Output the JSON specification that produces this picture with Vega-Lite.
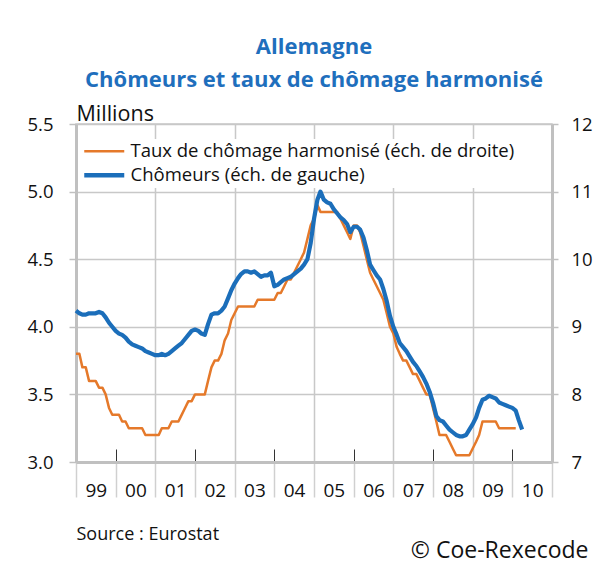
{
  "$schema": "https://vega.github.io/schema/vega-lite/v6.json",
  "width": 476,
  "height": 338,
  "autosize": "none",
  "padding": {"left": 76, "top": 124, "right": 58, "bottom": 110},
  "background": "white",
  "config": {
    "font": "Open Sans",
    "view": {"stroke": "#c8c8c8", "strokeWidth": 1.5},
    "axis": {"labelColor": "#111", "titleColor": "#111", "labelFont": "Open Sans", "titleFont": "Open Sans"}
  },
  "title": {
    "text": ["Allemagne", "Chômeurs et taux de chômage harmonisé"],
    "color": "#1f6fbd",
    "font": "Open Sans",
    "fontSize": 22,
    "fontWeight": "bold",
    "lineHeight": 33,
    "anchor": "middle",
    "frame": "group",
    "baseline": "alphabetic",
    "offset": -6
  },
  "datasets": {
    "chom": [
      {"d":"1999-01-01","v":4.12},{"d":"1999-02-01","v":4.10},{"d":"1999-03-01","v":4.09},{"d":"1999-04-01","v":4.09},{"d":"1999-05-01","v":4.10},{"d":"1999-06-01","v":4.10},{"d":"1999-07-01","v":4.10},{"d":"1999-08-01","v":4.11},{"d":"1999-09-01","v":4.10},{"d":"1999-10-01","v":4.07},{"d":"1999-11-01","v":4.03},{"d":"1999-12-01","v":4.00},
      {"d":"2000-01-01","v":3.97},{"d":"2000-02-01","v":3.95},{"d":"2000-03-01","v":3.94},{"d":"2000-04-01","v":3.92},{"d":"2000-05-01","v":3.89},{"d":"2000-06-01","v":3.87},{"d":"2000-07-01","v":3.86},{"d":"2000-08-01","v":3.85},{"d":"2000-09-01","v":3.84},{"d":"2000-10-01","v":3.82},{"d":"2000-11-01","v":3.81},{"d":"2000-12-01","v":3.80},
      {"d":"2001-01-01","v":3.79},{"d":"2001-02-01","v":3.79},{"d":"2001-03-01","v":3.80},{"d":"2001-04-01","v":3.79},{"d":"2001-05-01","v":3.80},{"d":"2001-06-01","v":3.82},{"d":"2001-07-01","v":3.84},{"d":"2001-08-01","v":3.86},{"d":"2001-09-01","v":3.88},{"d":"2001-10-01","v":3.91},{"d":"2001-11-01","v":3.94},{"d":"2001-12-01","v":3.97},
      {"d":"2002-01-01","v":3.98},{"d":"2002-02-01","v":3.97},{"d":"2002-03-01","v":3.95},{"d":"2002-04-01","v":3.94},{"d":"2002-05-01","v":4.02},{"d":"2002-06-01","v":4.09},{"d":"2002-07-01","v":4.10},{"d":"2002-08-01","v":4.10},{"d":"2002-09-01","v":4.12},{"d":"2002-10-01","v":4.15},{"d":"2002-11-01","v":4.21},{"d":"2002-12-01","v":4.27},
      {"d":"2003-01-01","v":4.32},{"d":"2003-02-01","v":4.36},{"d":"2003-03-01","v":4.39},{"d":"2003-04-01","v":4.41},{"d":"2003-05-01","v":4.41},{"d":"2003-06-01","v":4.40},{"d":"2003-07-01","v":4.41},{"d":"2003-08-01","v":4.39},{"d":"2003-09-01","v":4.37},{"d":"2003-10-01","v":4.38},{"d":"2003-11-01","v":4.38},{"d":"2003-12-01","v":4.40},
      {"d":"2004-01-01","v":4.30},{"d":"2004-02-01","v":4.31},{"d":"2004-03-01","v":4.33},{"d":"2004-04-01","v":4.35},{"d":"2004-05-01","v":4.36},{"d":"2004-06-01","v":4.37},{"d":"2004-07-01","v":4.39},{"d":"2004-08-01","v":4.41},{"d":"2004-09-01","v":4.43},{"d":"2004-10-01","v":4.46},{"d":"2004-11-01","v":4.50},{"d":"2004-12-01","v":4.62},
      {"d":"2005-01-01","v":4.80},{"d":"2005-02-01","v":4.94},{"d":"2005-03-01","v":5.00},{"d":"2005-04-01","v":4.94},{"d":"2005-05-01","v":4.92},{"d":"2005-06-01","v":4.91},{"d":"2005-07-01","v":4.87},{"d":"2005-08-01","v":4.84},{"d":"2005-09-01","v":4.81},{"d":"2005-10-01","v":4.79},{"d":"2005-11-01","v":4.76},{"d":"2005-12-01","v":4.70},
      {"d":"2006-01-01","v":4.74},{"d":"2006-02-01","v":4.74},{"d":"2006-03-01","v":4.72},{"d":"2006-04-01","v":4.66},{"d":"2006-05-01","v":4.57},{"d":"2006-06-01","v":4.46},{"d":"2006-07-01","v":4.42},{"d":"2006-08-01","v":4.38},{"d":"2006-09-01","v":4.35},{"d":"2006-10-01","v":4.28},{"d":"2006-11-01","v":4.19},{"d":"2006-12-01","v":4.08},
      {"d":"2007-01-01","v":4.00},{"d":"2007-02-01","v":3.94},{"d":"2007-03-01","v":3.88},{"d":"2007-04-01","v":3.85},{"d":"2007-05-01","v":3.82},{"d":"2007-06-01","v":3.78},{"d":"2007-07-01","v":3.74},{"d":"2007-08-01","v":3.71},{"d":"2007-09-01","v":3.67},{"d":"2007-10-01","v":3.63},{"d":"2007-11-01","v":3.58},{"d":"2007-12-01","v":3.52},
      {"d":"2008-01-01","v":3.44},{"d":"2008-02-01","v":3.34},{"d":"2008-03-01","v":3.31},{"d":"2008-04-01","v":3.30},{"d":"2008-05-01","v":3.27},{"d":"2008-06-01","v":3.24},{"d":"2008-07-01","v":3.22},{"d":"2008-08-01","v":3.20},{"d":"2008-09-01","v":3.19},{"d":"2008-10-01","v":3.19},{"d":"2008-11-01","v":3.20},{"d":"2008-12-01","v":3.24},
      {"d":"2009-01-01","v":3.28},{"d":"2009-02-01","v":3.33},{"d":"2009-03-01","v":3.40},{"d":"2009-04-01","v":3.46},{"d":"2009-05-01","v":3.47},{"d":"2009-06-01","v":3.49},{"d":"2009-07-01","v":3.48},{"d":"2009-08-01","v":3.47},{"d":"2009-09-01","v":3.44},{"d":"2009-10-01","v":3.43},{"d":"2009-11-01","v":3.42},{"d":"2009-12-01","v":3.41},
      {"d":"2010-01-01","v":3.40},{"d":"2010-02-01","v":3.38},{"d":"2010-03-01","v":3.31},{"d":"2010-04-01","v":3.24}
    ],
    "taux": [
      {"d":"1999-01-01","v":8.6},{"d":"1999-02-01","v":8.6},{"d":"1999-03-01","v":8.4},{"d":"1999-04-01","v":8.4},{"d":"1999-05-01","v":8.2},{"d":"1999-06-01","v":8.2},{"d":"1999-07-01","v":8.2},{"d":"1999-08-01","v":8.1},{"d":"1999-09-01","v":8.1},{"d":"1999-10-01","v":8.0},{"d":"1999-11-01","v":7.8},{"d":"1999-12-01","v":7.7},
      {"d":"2000-01-01","v":7.7},{"d":"2000-02-01","v":7.7},{"d":"2000-03-01","v":7.6},{"d":"2000-04-01","v":7.6},{"d":"2000-05-01","v":7.5},{"d":"2000-06-01","v":7.5},{"d":"2000-07-01","v":7.5},{"d":"2000-08-01","v":7.5},{"d":"2000-09-01","v":7.5},{"d":"2000-10-01","v":7.4},{"d":"2000-11-01","v":7.4},{"d":"2000-12-01","v":7.4},
      {"d":"2001-01-01","v":7.4},{"d":"2001-02-01","v":7.4},{"d":"2001-03-01","v":7.5},{"d":"2001-04-01","v":7.5},{"d":"2001-05-01","v":7.5},{"d":"2001-06-01","v":7.6},{"d":"2001-07-01","v":7.6},{"d":"2001-08-01","v":7.6},{"d":"2001-09-01","v":7.7},{"d":"2001-10-01","v":7.8},{"d":"2001-11-01","v":7.9},{"d":"2001-12-01","v":7.9},
      {"d":"2002-01-01","v":8.0},{"d":"2002-02-01","v":8.0},{"d":"2002-03-01","v":8.0},{"d":"2002-04-01","v":8.0},{"d":"2002-05-01","v":8.2},{"d":"2002-06-01","v":8.4},{"d":"2002-07-01","v":8.5},{"d":"2002-08-01","v":8.5},{"d":"2002-09-01","v":8.6},{"d":"2002-10-01","v":8.8},{"d":"2002-11-01","v":8.9},{"d":"2002-12-01","v":9.1},
      {"d":"2003-01-01","v":9.2},{"d":"2003-02-01","v":9.3},{"d":"2003-03-01","v":9.3},{"d":"2003-04-01","v":9.3},{"d":"2003-05-01","v":9.3},{"d":"2003-06-01","v":9.3},{"d":"2003-07-01","v":9.3},{"d":"2003-08-01","v":9.4},{"d":"2003-09-01","v":9.4},{"d":"2003-10-01","v":9.4},{"d":"2003-11-01","v":9.4},{"d":"2003-12-01","v":9.4},
      {"d":"2004-01-01","v":9.4},{"d":"2004-02-01","v":9.5},{"d":"2004-03-01","v":9.5},{"d":"2004-04-01","v":9.6},{"d":"2004-05-01","v":9.7},{"d":"2004-06-01","v":9.7},{"d":"2004-07-01","v":9.8},{"d":"2004-08-01","v":9.9},{"d":"2004-09-01","v":10.0},{"d":"2004-10-01","v":10.1},{"d":"2004-11-01","v":10.3},{"d":"2004-12-01","v":10.5},
      {"d":"2005-01-01","v":10.6},{"d":"2005-02-01","v":10.8},{"d":"2005-03-01","v":10.7},{"d":"2005-04-01","v":10.7},{"d":"2005-05-01","v":10.7},{"d":"2005-06-01","v":10.7},{"d":"2005-07-01","v":10.7},{"d":"2005-08-01","v":10.7},{"d":"2005-09-01","v":10.6},{"d":"2005-10-01","v":10.5},{"d":"2005-11-01","v":10.4},{"d":"2005-12-01","v":10.3},
      {"d":"2006-01-01","v":10.5},{"d":"2006-02-01","v":10.5},{"d":"2006-03-01","v":10.4},{"d":"2006-04-01","v":10.2},{"d":"2006-05-01","v":10.0},{"d":"2006-06-01","v":9.8},{"d":"2006-07-01","v":9.7},{"d":"2006-08-01","v":9.6},{"d":"2006-09-01","v":9.5},{"d":"2006-10-01","v":9.4},{"d":"2006-11-01","v":9.2},{"d":"2006-12-01","v":9.0},
      {"d":"2007-01-01","v":8.9},{"d":"2007-02-01","v":8.7},{"d":"2007-03-01","v":8.6},{"d":"2007-04-01","v":8.5},{"d":"2007-05-01","v":8.5},{"d":"2007-06-01","v":8.4},{"d":"2007-07-01","v":8.3},{"d":"2007-08-01","v":8.3},{"d":"2007-09-01","v":8.2},{"d":"2007-10-01","v":8.1},{"d":"2007-11-01","v":8.0},{"d":"2007-12-01","v":8.0},
      {"d":"2008-01-01","v":7.8},{"d":"2008-02-01","v":7.6},{"d":"2008-03-01","v":7.4},{"d":"2008-04-01","v":7.4},{"d":"2008-05-01","v":7.4},{"d":"2008-06-01","v":7.3},{"d":"2008-07-01","v":7.2},{"d":"2008-08-01","v":7.1},{"d":"2008-09-01","v":7.1},{"d":"2008-10-01","v":7.1},{"d":"2008-11-01","v":7.1},{"d":"2008-12-01","v":7.1},
      {"d":"2009-01-01","v":7.2},{"d":"2009-02-01","v":7.3},{"d":"2009-03-01","v":7.4},{"d":"2009-04-01","v":7.6},{"d":"2009-05-01","v":7.6},{"d":"2009-06-01","v":7.6},{"d":"2009-07-01","v":7.6},{"d":"2009-08-01","v":7.6},{"d":"2009-09-01","v":7.5},{"d":"2009-10-01","v":7.5},{"d":"2009-11-01","v":7.5},{"d":"2009-12-01","v":7.5},
      {"d":"2010-01-01","v":7.5},{"d":"2010-02-01","v":7.5}
    ]
  },
  "resolve": {"scale": {"y": "independent"}, "axis": {"x": "independent", "y": "independent"}},
  "layer": [
    {
      "data": {"name": "taux"},
      "mark": {"type": "line", "strokeWidth": 2.5, "strokeJoin": "round"},
      "encoding": {
        "x": {
          "field": "d", "type": "temporal",
          "scale": {"domain": [{"year": 1999, "month": 1, "date": 1}, {"year": 2011, "month": 1, "date": 1}]},
          "axis": {
            "orient": "bottom",
            "values": [{"year":1999,"month":1,"date":1},{"year":2000,"month":1,"date":1},{"year":2001,"month":1,"date":1},{"year":2002,"month":1,"date":1},{"year":2003,"month":1,"date":1},{"year":2004,"month":1,"date":1},{"year":2005,"month":1,"date":1},{"year":2006,"month":1,"date":1},{"year":2007,"month":1,"date":1},{"year":2008,"month":1,"date":1},{"year":2009,"month":1,"date":1},{"year":2010,"month":1,"date":1}],
            "format": "%y",
            "labelOffset": 19.8,
            "labelAlign": "center",
            "labelBaseline": "middle",
            "labelFlush": false,
            "labelOverlap": false,
            "labelBound": false,
            "labelFontSize": 19,
            "labelPadding": 41,
            "ticks": true,
            "tickSize": -13,
            "tickColor": "#333333",
            "tickWidth": 1,
            "tickOpacity": {"condition": {"test": "year(datum.value) % 2 == 0", "value": 1}, "value": 0},
            "domain": false,
            "grid": false,
            "title": "© Coe-Rexecode",
            "titleFontSize": 23,
            "titleFontWeight": "normal",
            "titleAngle": 0,
            "titleAlign": "right",
            "titleAnchor": null,
            "titleBaseline": "alphabetic",
            "titleX": 512,
            "titleY": 95
          }
        },
        "y": {
          "field": "v", "type": "quantitative",
          "scale": {"domain": [7, 12], "nice": false, "zero": false},
          "axis": {
            "orient": "right",
            "values": [7, 8, 9, 10, 11, 12],
            "grid": false,
            "domainColor": "#c0c0c0",
            "domainWidth": 3,
            "tickColor": "#c0c0c0",
            "tickSize": 6,
            "tickWidth": 1.5,
            "labelFontSize": 18.5,
            "labelPadding": 13,
            "labelAlign": "left",
            "title": null
          }
        },
        "color": {
          "datum": "Taux de chômage harmonisé (éch. de droite)",
          "type": "nominal",
          "scale": {"domain": ["Taux de chômage harmonisé (éch. de droite)", "Chômeurs (éch. de gauche)"], "range": ["#e5792a", "#1b6eba"]},
          "legend": {
            "title": null,
            "orient": "none",
            "legendX": 16,
            "legendY": 15,
            "padding": 3,
            "fillColor": "white",
            "symbolType": "M-2,0H2",
            "symbolSize": 400,
            "labelFontSize": 18.5,
            "labelColor": "#111",
            "labelOffset": 17,
            "labelLimit": 600,
            "rowPadding": 5,
            "encode": {"symbols": {"update": {"strokeWidth": {"signal": "datum.value === 'Chômeurs (éch. de gauche)' ? 4.5 : 2.5"}}}}
          }
        }
      }
    },
    {
      "data": {"name": "chom"},
      "mark": {"type": "line", "strokeWidth": 4.2, "strokeJoin": "round"},
      "encoding": {
        "x": {
          "field": "d", "type": "temporal",
          "axis": {
            "orient": "bottom",
            "values": [{"year":1999,"month":1,"date":1},{"year":2000,"month":1,"date":1},{"year":2001,"month":1,"date":1},{"year":2002,"month":1,"date":1},{"year":2003,"month":1,"date":1},{"year":2004,"month":1,"date":1},{"year":2005,"month":1,"date":1},{"year":2006,"month":1,"date":1},{"year":2007,"month":1,"date":1},{"year":2008,"month":1,"date":1},{"year":2009,"month":1,"date":1},{"year":2010,"month":1,"date":1},{"year":2011,"month":1,"date":1}],
            "labels": false,
            "ticks": true,
            "tickSize": 35,
            "tickColor": "#d0d0d0",
            "tickWidth": 1.5,
            "grid": true,
            "gridColor": "#c8c8c8",
            "gridWidth": 1.5,
            "gridOpacity": {"condition": {"test": "year(datum.value) % 2 == 1", "value": 1}, "value": 0},
            "domain": true,
            "domainColor": "#c0c0c0",
            "domainWidth": 3,
            "title": "Source : Eurostat",
            "titleFontSize": 18,
            "titleFontWeight": "normal",
            "titleAngle": 0,
            "titleAlign": "left",
            "titleAnchor": null,
            "titleBaseline": "alphabetic",
            "titleX": 0,
            "titleY": 77
          }
        },
        "y": {
          "field": "v", "type": "quantitative",
          "scale": {"domain": [3, 5.5], "nice": false, "zero": false},
          "axis": {
            "orient": "left",
            "values": [3, 3.5, 4, 4.5, 5, 5.5],
            "format": ".1f",
            "grid": true,
            "gridColor": "#c8c8c8",
            "gridWidth": 1.5,
            "domainColor": "#c0c0c0",
            "domainWidth": 3,
            "tickColor": "#c0c0c0",
            "tickSize": 7,
            "tickWidth": 1.5,
            "labelFontSize": 18.5,
            "labelPadding": 16,
            "title": "Millions",
            "titleFontSize": 21.5,
            "titleFontWeight": "normal",
            "titleAngle": 0,
            "titleAlign": "left",
            "titleAnchor": null,
            "titleBaseline": "alphabetic",
            "titleX": 0,
            "titleY": -4
          }
        },
        "color": {"datum": "Chômeurs (éch. de gauche)", "type": "nominal"}
      }
    }
  ]
}
